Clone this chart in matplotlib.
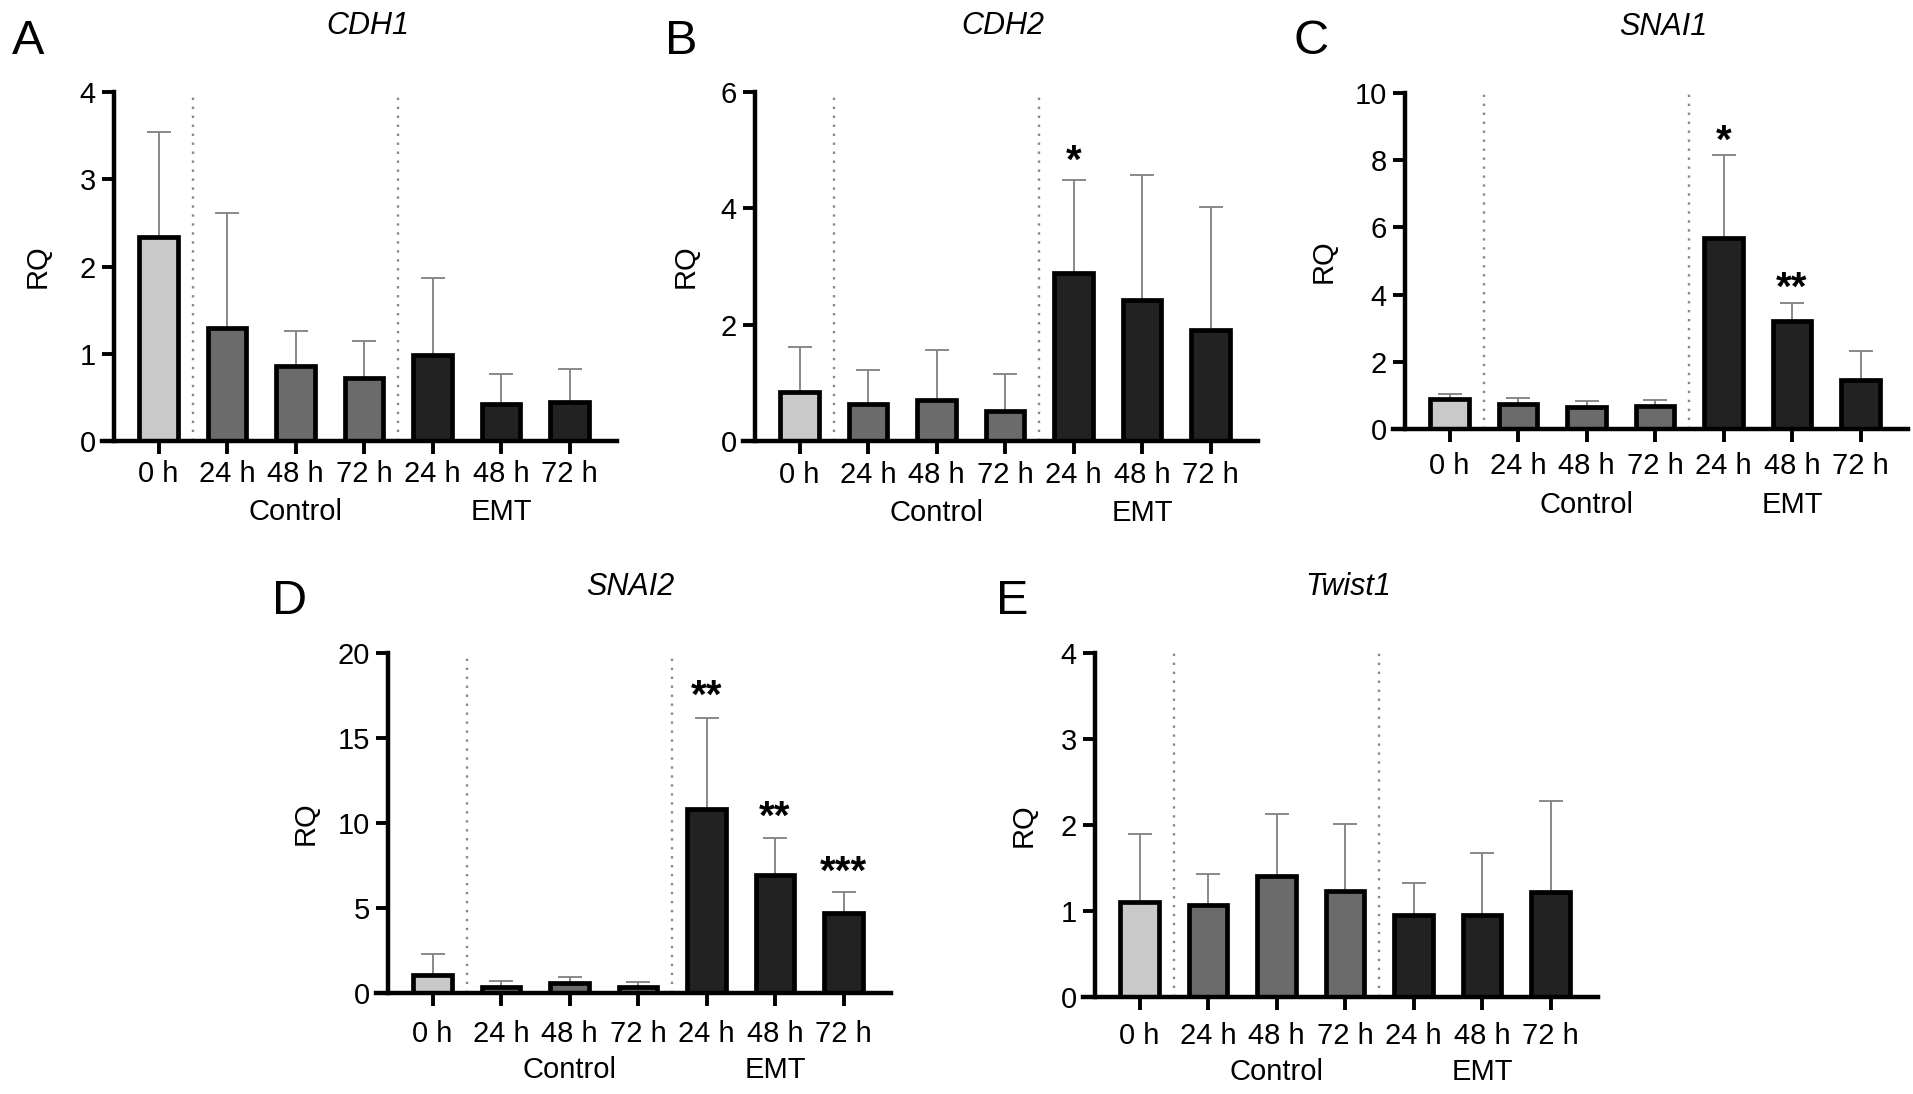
import matplotlib
matplotlib.use("Agg")
import matplotlib.pyplot as plt
from matplotlib.transforms import blended_transform_factory

plt.rcParams['font.family'] = ['Liberation Sans', 'DejaVu Sans']

# ---- data -------------------------------------------------------------
tick_labels = ['0 h', '24 h', '48 h', '72 h', '24 h', '48 h', '72 h']
groups = ['Control', 'EMT']

cdh1 = [2.34, 1.29, 0.86, 0.72, 0.99, 0.42, 0.45]
cdh1_sd = [1.20, 1.32, 0.40, 0.43, 0.88, 0.35, 0.38]

cdh2 = [0.85, 0.63, 0.71, 0.52, 2.88, 2.43, 1.90]
cdh2_sd = [0.77, 0.59, 0.85, 0.64, 1.61, 2.14, 2.13]

snai1 = [0.88, 0.73, 0.66, 0.68, 5.69, 3.22, 1.47]
snai1_sd = [0.16, 0.20, 0.17, 0.18, 2.47, 0.52, 0.86]

snai2 = [1.06, 0.34, 0.56, 0.34, 10.85, 6.93, 4.70]
snai2_sd = [1.26, 0.38, 0.36, 0.28, 5.33, 2.20, 1.23]

twist1 = [1.11, 1.07, 1.41, 1.23, 0.95, 0.95, 1.22]
twist1_sd = [0.78, 0.36, 0.72, 0.78, 0.38, 0.72, 1.06]

# significance marks: (bar index, height of mark centre, text)
cdh1_stars = []
cdh2_stars = [(4, 4.93, '*')]
snai1_stars = [(4, 8.76, '*'), (5, 4.41, '**')]
snai2_stars = [(4, 17.84, '**'), (5, 10.75, '**'), (6, 7.5, '***')]
twist1_stars = []

bar_colors = ['#c9c9c9', '#6b6b6b', '#6b6b6b', '#6b6b6b',
              '#222222', '#222222', '#222222']

W, H = 1913, 1094
FS = 21
STAR_FS = 29
fig = plt.figure(figsize=(W / 100, H / 100), dpi=100)

UNIT = 68.5       # px per bar slot
XMIN, XMAX, SPINE_X = -0.83, 6.69, -0.65


def panel(x0, yb, yt, vals, sd, ymax, yticks, title, title_x, rq_x, stars,
          lab_dy=0, grp_dy=71):
    left = x0 - (SPINE_X - XMIN) * UNIT
    width = (XMAX - XMIN) * UNIT
    ax = fig.add_axes([left / W, 1 - yb / H, width / W, (yb - yt) / H])
    xs = list(range(len(vals)))

    ax.errorbar(xs, vals, yerr=[[0] * len(sd), sd], fmt='none',
                ecolor='#808080', elinewidth=1.3, capsize=8.3,
                capthick=1.3, zorder=1)
    ax.bar(xs, vals, width=0.56, color=bar_colors, edgecolor='black',
           linewidth=3.4, zorder=2)

    for xd in (0.5, 3.5):
        ax.plot([xd, xd], [0, ymax], color='#888888', lw=1.7,
                linestyle=(0, (1, 2.8)), zorder=0, clip_on=False)

    for i, yc, s in stars:
        ax.annotate(s, xy=(i, yc), xytext=(0, -0.46 * STAR_FS),
                    textcoords='offset points', ha='center', va='baseline',
                    fontsize=STAR_FS, fontweight='bold')

    ax.set_xlim(XMIN, XMAX)
    ax.set_ylim(0, ymax)
    ax.set_yticks(yticks)
    ax.set_xticks(xs)
    ax.set_xticklabels(tick_labels)
    for sp in ('top', 'right'):
        ax.spines[sp].set_visible(False)
    ax.spines['left'].set_position(('data', SPINE_X))
    ax.spines['left'].set_linewidth(3.2)
    ax.spines['bottom'].set_linewidth(3.2)
    ax.tick_params(axis='both', width=2.8, length=9, labelsize=FS,
                   colors='black')
    ax.tick_params(axis='x', pad=5 + lab_dy / 1.389)
    ax.tick_params(axis='y', pad=4)

    tr = blended_transform_factory(ax.transData, ax.transAxes)
    for gx, g in zip((2, 5), groups):
        ax.annotate(g, xy=(gx, 0), xycoords=tr, xytext=(0, -grp_dy / 1.389),
                    textcoords='offset points', ha='center', va='center',
                    fontsize=FS)

    fig.text(rq_x / W, 1 - (yb + yt) / 2 / H, 'RQ', rotation=90,
             ha='center', va='center', fontsize=FS)
    fig.text(title_x / W, 1 - (yt - 66) / H, title, ha='center',
             va='center', fontsize=FS + 1, style='italic')
    return ax


a = panel(114, 441, 92, cdh1, cdh1_sd, 4, [0, 1, 2, 3, 4],
          'CDH1', 368, 38, cdh1_stars, 0, 71)
b = panel(755, 441, 92, cdh2, cdh2_sd, 6, [0, 2, 4, 6],
          'CDH2', 1003, 686, cdh2_stars, 1, 72)
c = panel(1405, 429, 93, snai1, snai1_sd, 10, [0, 2, 4, 6, 8, 10],
          'SNAI1', 1663, 1324, snai1_stars, 4, 76)
d = panel(388, 993, 653, snai2, snai2_sd, 20, [0, 5, 10, 15, 20],
          'SNAI2', 630, 306, snai2_stars, 8, 77)
e = panel(1095, 997, 653, twist1, twist1_sd, 4, [0, 1, 2, 3, 4],
          'Twist1', 1348, 1024, twist1_stars, 6, 75)

# panel letters
for lx, ly, s in [(12, 41, 'A'), (665, 41, 'B'), (1293, 41, 'C'),
                  (272, 601, 'D'), (996, 601, 'E')]:
    fig.text(lx / W, 1 - ly / H, s, fontsize=35, ha='left', va='center')

fig.savefig('out.png', dpi=100)
